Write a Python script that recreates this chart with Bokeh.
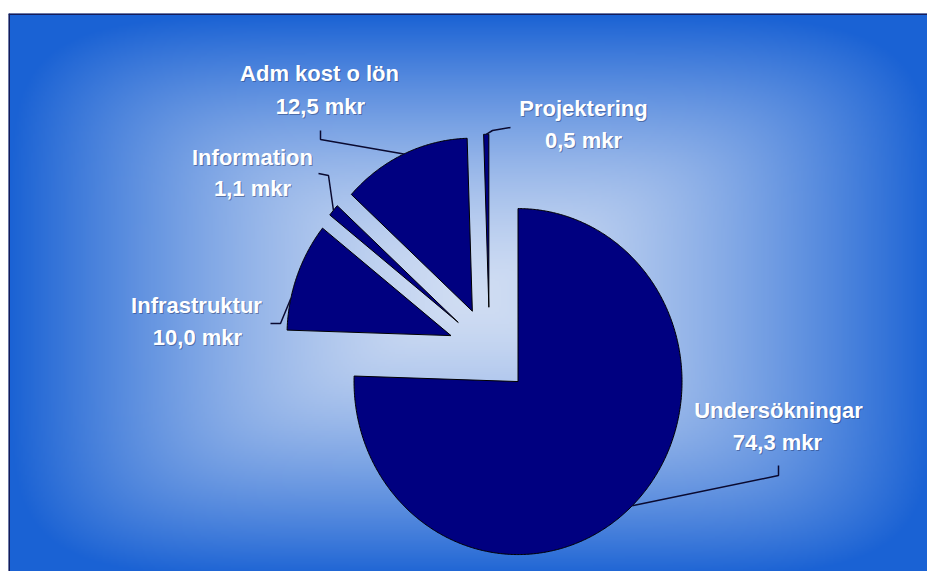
import numpy as np
from bokeh.plotting import figure
from bokeh.models import Span
from bokeh.core.properties import value
from bokeh.embed import file_html
from bokeh.resources import INLINE

# ---------------- data ----------------
categories = ["Undersökningar", "Infrastruktur", "Information", "Adm kost o lön", "Projektering"]
amounts = [74.3, 10.0, 1.1, 12.5, 0.5]
value_labels = ["74,3 mkr", "10,0 mkr", "1,1 mkr", "12,5 mkr", "0,5 mkr"]

# ---------------- layout / style ----------------
FIG_W, FIG_H = 927, 571
FX0, FX1, FY0, FY1 = 8, FIG_W, 13, FIG_H   # frame inside the figure (px)
CX, CY = 489, 350                          # pie centre (px)
RX, RY = 164, 173                          # pie radius (px per data unit)
EXPLODE = 0.25
SLICE_COLOR = "#000080"
LINE_COLOR = "#0a0a30"


def to_data(sx, sy):
    return (sx - CX) / RX, (CY - sy) / RY


x_start, y_top = to_data(FX0, FY0)
x_end, y_bot = to_data(FX1, FY1)

p = figure(width=FIG_W, height=FIG_H, output_backend="svg", toolbar_location=None,
           x_range=(x_start, x_end), y_range=(y_bot, y_top),
           x_axis_type=None, y_axis_type=None, title=None,
           min_border_left=FX0, min_border_right=0, min_border_top=FY0, min_border_bottom=0,
           border_fill_color="white", outline_line_color=None)
p.grid.visible = False

# ---------------- gradient background (soft rectangular "from centre") ----------------
GW, GH = 460, 280
gx = np.linspace(FX0, FX1, GW)
gy = np.linspace(FY0, FY1, GH)
SX, SY = np.meshgrid(gx, gy)
gcx, gcy, hw, hh = 471, 296, 463, 283
dxn = np.abs(SX - gcx) / hw
dyn = np.abs(SY - gcy) / hh
t = (dxn ** 6 + dyn ** 6) ** (1 / 6)
t = np.clip(t, 0, 1) ** 1.5
c_in = np.array([208, 221, 243])
c_out = np.array([26, 98, 212])
rgb = c_in[None, None, :] + (c_out - c_in)[None, None, :] * t[:, :, None]
rgb = np.flipud(rgb).astype(np.uint8)
img = np.empty((GH, GW), dtype=np.uint32)
view = img.view(dtype=np.uint8).reshape((GH, GW, 4))
view[:, :, 0] = rgb[:, :, 0]
view[:, :, 1] = rgb[:, :, 1]
view[:, :, 2] = rgb[:, :, 2]
view[:, :, 3] = 255
p.image_rgba(image=[img], x=x_start, y=y_bot, dw=x_end - x_start, dh=y_top - y_bot)

# ---------------- slices ----------------
total = sum(amounts)
cum = np.cumsum([0] + amounts)
xs, ys, mids, offs = [], [], [], []
for i, a in enumerate(amounts):
    a0 = 90 - cum[i] / total * 360
    a1 = 90 - cum[i + 1] / total * 360
    mid = (a0 + a1) / 2
    ox = EXPLODE * np.cos(np.radians(mid))
    oy = EXPLODE * np.sin(np.radians(mid))
    arc = np.radians(np.linspace(a0, a1, max(8, int(abs(a1 - a0) * 2))))
    xs.append([ox] + list(ox + np.cos(arc)))
    ys.append([oy] + list(oy + np.sin(arc)))
    mids.append(mid)
    offs.append((ox, oy))

p.patches(xs, ys, fill_color=SLICE_COLOR, line_color="black", line_width=1)

# ---------------- leader lines ----------------
ATTACH = [None, 167.6, None, None, None]
LEADER_PTS = [[(778, 465), (778, 475)], [(270, 323), (280, 323)], [(318, 173), (328, 175)],
              [(320, 130), (320, 139)], [(510, 127), (492, 130)]]
lx, ly = [], []
for i in range(len(amounts)):
    ang = np.radians(ATTACH[i] if ATTACH[i] is not None else mids[i])
    ex = offs[i][0] + np.cos(ang)
    ey = offs[i][1] + np.sin(ang)
    pts = [to_data(*pt) for pt in LEADER_PTS[i]]
    lx.append([q[0] for q in pts] + [ex])
    ly.append([q[1] for q in pts] + [ey])
p.multi_line(lx, ly, line_color=LINE_COLOR, line_width=1.5)

# ---------------- labels ----------------
LABEL_POS = [((778, 410), (777, 442)), ((196, 305), (197, 337)), ((252, 157), (252, 188)),
             ((319, 73), (320, 106)), ((583, 108), (583, 140))]
tx, ty, tt = [], [], []
for i in range(len(amounts)):
    for j, txt in enumerate([categories[i], value_labels[i]]):
        d = to_data(*LABEL_POS[i][j])
        tx.append(d[0]); ty.append(d[1]); tt.append(txt)

common = dict(text_font=value("Liberation Sans"), text_font_style="bold",
              text_font_size="22px", text_align="center", text_baseline="middle")
p.text(tx, ty, text=tt, text_color="#203060", text_alpha=0.45, x_offset=1, y_offset=1, **common)
p.text(tx, ty, text=tt, text_color="white", **common)

# ---------------- frame border (top & left) ----------------
p.add_layout(Span(location=y_top, dimension="width", line_color="#141c5a", line_width=3))
p.add_layout(Span(location=x_start, dimension="height", line_color="#141c5a", line_width=3))

open("out.html", "w").write(file_html(p, INLINE))
